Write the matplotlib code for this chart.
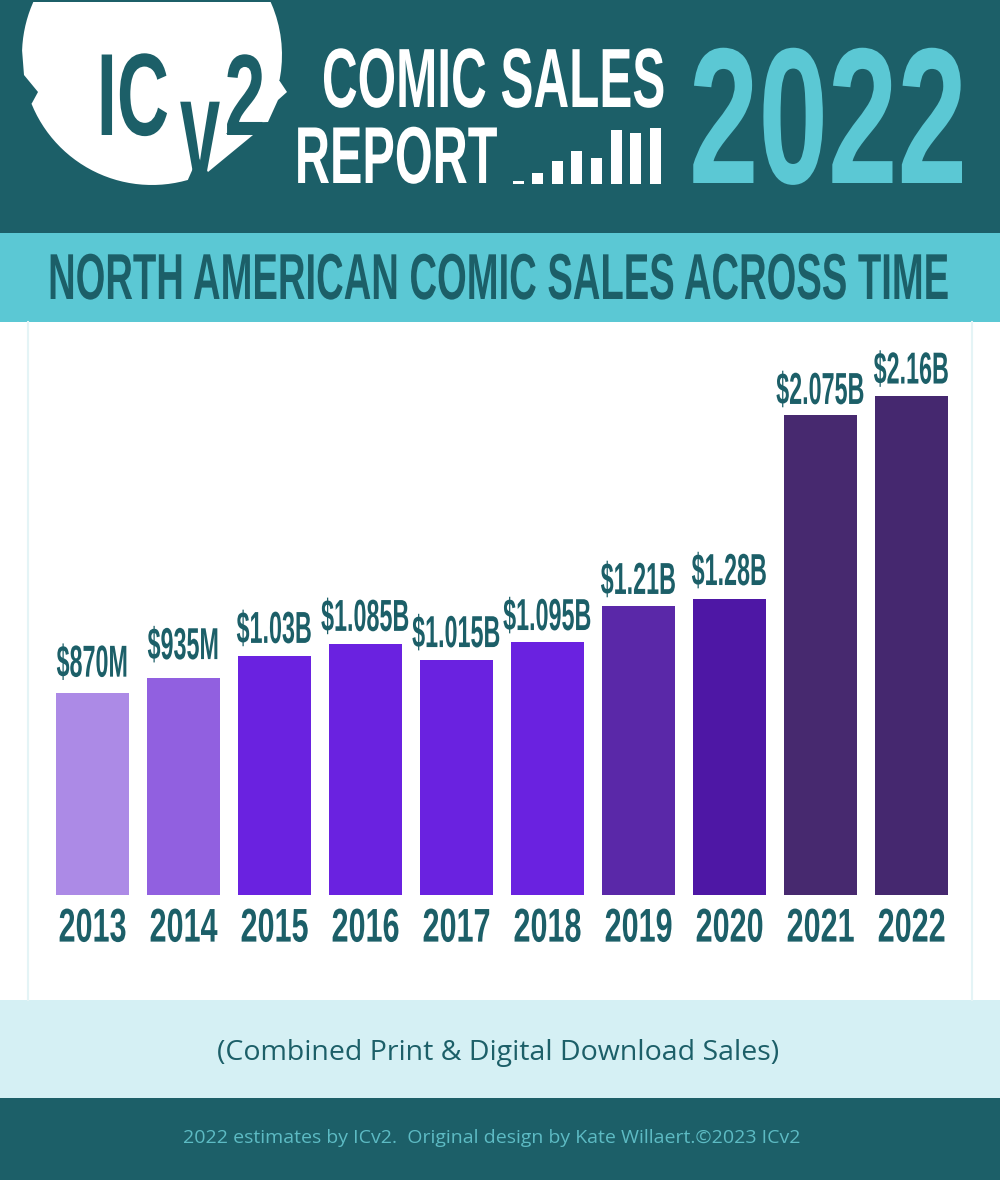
import numpy as np
import matplotlib
matplotlib.use('Agg')
import matplotlib.pyplot as plt
from matplotlib.patches import Rectangle, Polygon
from matplotlib.patheffects import AbstractPathEffect
from matplotlib.transforms import Affine2D

# --- Data ---
years = ['2013', '2014', '2015', '2016', '2017', '2018', '2019', '2020', '2021', '2022']
sales = [875, 938, 1034, 1086, 1016, 1094, 1250, 1280, 2076, 2160]  # $M, as drawn
sales_labels = ['$870M', '$935M', '$1.03B', '$1.085B', '$1.015B', '$1.095B',
                '$1.21B', '$1.28B', '$2.075B', '$2.16B']
bar_colors = ['#AC8AE6', '#9160E0', '#6A22E0', '#6A22E0', '#6A22E0', '#6A22E0',
              '#5A28A8', '#4E17A5', '#47296F', '#45286F']
label_gaps = [16, 19, 13, 13, 13, 12, 12, 14, 11, 12]  # px above each bar
icon_heights = [2.5, 11, 23, 33, 26, 54, 51, 56]

TEAL = '#1C5F68'
CYAN = '#5BC8D4'
PALE = '#D5F0F4'
DISPLAY = 'Liberation Sans'
PX = 0.72  # points per pixel at dpi 100


class Tall(AbstractPathEffect):
    """Stretch text up from its baseline, there is no condensed font to use."""
    def __init__(self, sy):
        super().__init__()
        self.sy = sy

    def draw_path(self, renderer, gc, tpath, affine, rgbFace=None):
        renderer.draw_path(gc, tpath, Affine2D().scale(1, self.sy) + affine, rgbFace)


fig = plt.figure(figsize=(10, 11.8), dpi=100, facecolor='white')

# --- Page layout, in pixels from the top left ---
bg = fig.add_axes([0, 0, 1, 1])
bg.set_xlim(0, 1000)
bg.set_ylim(1180, 0)
bg.axis('off')

bg.add_patch(Rectangle((0, 0), 1000, 233, color=TEAL, lw=0))
bg.add_patch(Rectangle((0, 233), 1000, 89, color=CYAN, lw=0))
bg.add_patch(Rectangle((0, 1000), 1000, 98, color=PALE, lw=0))
bg.add_patch(Rectangle((0, 1098), 1000, 82, color=TEAL, lw=0))
bg.plot([28, 28], [322, 1000], color='#E4F4F6', lw=1.5)
bg.plot([972, 972], [322, 1000], color='#E4F4F6', lw=1.5)

# Logo head: circle with a nose, chin and the cut of the v
cx, cy, r = 152, 55, 130


def arc(a0, a1, n):
    return [(cx + r * np.cos(a), cy - r * np.sin(a)) for a in np.radians(np.linspace(a0, a1, n))]


head = arc(115, 178, 24)
head += [(24, 75), (38, 92), (32, 103)]
head += arc(202, 286, 30)
head += [(198, 157), (208, 172), (253, 135), (226, 134), (238, 123), (268, 122),
         (278, 100), (287, 92), (279, 80)]
head += arc(-11, 65, 20)
bg.add_patch(Polygon(head, closed=True, color='white', lw=0))
bg.add_patch(Rectangle((0, 0), 400, 2, color=TEAL, lw=0))


def display(s, x, y, size, sy, color):
    return bg.text(x, y, s, family=DISPLAY, weight='bold', fontsize=size, color=color,
                   ha='center', va='baseline', path_effects=[Tall(sy)])


display('IC', 133, 135, 52, 1.62, TEAL)
display('v', 200, 178, 52, 2.0, TEAL)
display('2', 245, 135, 53, 1.57, TEAL)

display('COMIC SALES', 493, 107, 35.6, 1.7, 'white')
display('REPORT', 396, 183, 35, 1.66, 'white')
display('2022', 828, 183, 90, 1.55, CYAN)
display('NORTH AMERICAN COMIC SALES ACROSS TIME', 499, 299, 27.5, 1.7, TEAL)

for i, h in enumerate(icon_heights):
    bg.add_patch(Rectangle((512.5 + 19.6 * i, 183.5 - h), 11, h, color='white', lw=0))

bg.text(498, 1053, '(Combined Print & Digital Download Sales)', family='Open Sans',
        fontsize=20.5, color=TEAL, ha='center', va='center')
bg.text(492, 1138, '2022 estimates by ICv2.  Original design by Kate Willaert.\u00a92023 ICv2',
        family='Open Sans', fontsize=14, color='#5DBBC4', ha='center', va='center')

# --- Bar chart ---
ax = fig.add_axes([0.028, 1 - 895 / 1180, 0.944, (895 - 322) / 1180])
ax.patch.set_alpha(0)
pos = np.arange(len(years))
bars = ax.bar(pos, sales, width=0.802, color=bar_colors)
ax.set_xlim((28 - 92.5) / 91, (972 - 92.5) / 91)
ax.set_ylim(0, 2478)
for s in ax.spines.values():
    s.set_visible(False)
ax.set_yticks([])
ax.set_xticks(pos)
ax.set_xticklabels(years, family=DISPLAY, weight='bold', fontsize=22, color=TEAL,
                   path_effects=[Tall(1.55)])
ax.tick_params(axis='x', length=0, pad=17)

for b, lab, gap in zip(bars, sales_labels, label_gaps):
    ax.annotate(lab, (b.get_x() + b.get_width() / 2, b.get_height()), xytext=(0, gap * PX),
                textcoords='offset points', ha='center', va='baseline', family=DISPLAY,
                weight='bold', fontsize=16.8, color=TEAL, path_effects=[Tall(1.92)])

fig.savefig('out.png', dpi=100)
